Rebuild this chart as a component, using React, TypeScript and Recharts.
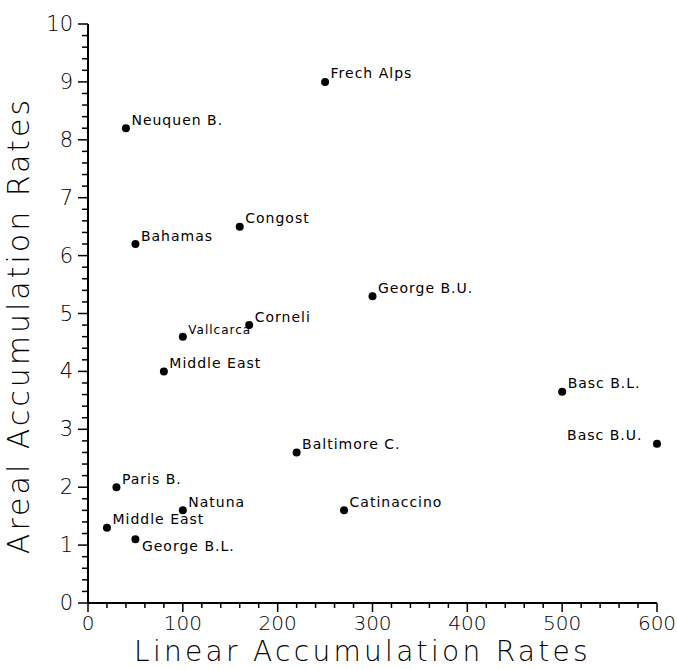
import React from "react"
import { ScatterChart, Scatter, XAxis, YAxis, LabelList } from "recharts"

// basin names, linear and areal accumulation rates
const names = [
  "Frech Alps",
  "Neuquen B.",
  "Congost",
  "Bahamas",
  "George B.U.",
  "Corneli",
  "Vallcarca",
  "Middle East",
  "Basc B.L.",
  "Basc B.U.",
  "Baltimore C.",
  "Paris B.",
  "Natuna",
  "Catinaccino",
  "Middle East",
  "George B.L.",
]
const linearRates = [250, 40, 160, 50, 300, 170, 100, 80, 500, 600, 220, 30, 100, 270, 20, 50]
const arealRates = [9.0, 8.2, 6.5, 6.2, 5.3, 4.8, 4.6, 4.0, 3.65, 2.75, 2.6, 2.0, 1.6, 1.6, 1.3, 1.1]

const xMajorTicks = [0, 100, 200, 300, 400, 500, 600]
const yMajorTicks = [0, 1, 2, 3, 4, 5, 6, 7, 8, 9, 10]

// minor ticks: 5 steps between each pair of majors
const subdivide = (majors: number[]) => {
  const out: number[] = []
  for (let i = 0; i < majors.length - 1; i++) {
    const step = (majors[i + 1] - majors[i]) / 5
    for (let k = 0; k < 5; k++) out.push(Math.round((majors[i] + k * step) * 100) / 100)
  }
  out.push(majors[majors.length - 1])
  return out
}
const xTicks = subdivide(xMajorTicks)
const yTicks = subdivide(yMajorTicks)

const data = names.map((name, i) => ({ name, x: linearRates[i], y: arealRates[i] }))

const FONT = "'DejaVu Sans', sans-serif"

const XTick = (props: any) => {
  const { x, y, payload } = props
  const major = xMajorTicks.includes(payload.value)
  return (
    <g>
      <line x1={x} y1={y} x2={x} y2={y + (major ? 9 : 5)} stroke="#000" strokeWidth={1.5} />
      {major && (
        <text x={x} y={y + 20} textAnchor="middle" dominantBaseline="central" fontFamily={FONT} fontWeight={200} fontSize={20} fill="#000">
          {payload.value}
        </text>
      )}
    </g>
  )
}

const YTick = (props: any) => {
  const { x, y, payload } = props
  const major = yMajorTicks.includes(payload.value)
  return (
    <g>
      <line x1={x} y1={y} x2={x - (major ? 10 : 6)} y2={y} stroke="#000" strokeWidth={1.5} />
      {major && (
        <text x={x - 15} y={y} textAnchor="end" dominantBaseline="central" fontFamily={FONT} fontWeight={200} fontSize={21} fill="#000">
          {payload.value}
        </text>
      )}
    </g>
  )
}

// label placement next to each dot
const PointLabel = (props: any) => {
  const { x, y, value } = props
  let tx = x + 10
  let ty = y - 4
  let anchor = "start"
  let size = 14
  if (value === "Basc B.U.") {
    tx = x - 10
    anchor = "end"
  } else if (value === "George B.L.") {
    tx = x + 11
    ty = y + 11
  } else if (value === "Vallcarca") {
    size = 12
    ty = y - 2
  }
  return (
    <text x={tx} y={ty} textAnchor={anchor} dominantBaseline="central" fontFamily={FONT} fontSize={size} letterSpacing={1} fill="#000">
      {value}
    </text>
  )
}

const Dot = (props: any) => <circle cx={props.cx} cy={props.cy} r={4} fill="#000" />

export default function App() {
  return (
    <div style={{ position: "fixed", left: 0, top: 0, width: 677, height: 669, background: "#fff" }}>
      <ScatterChart width={677} height={669} margin={{ top: 24, right: 20, left: 0, bottom: 0 }}>
        <XAxis
          type="number"
          dataKey="x"
          domain={[0, 600]}
          ticks={xTicks}
          interval={0}
          tickSize={0}
          tickMargin={0}
          height={66}
          axisLine={{ stroke: "#000", strokeWidth: 2 }}
          tick={<XTick />}
          label={{
            value: "Linear Accumulation Rates",
            position: "insideBottom",
            offset: 8,
            dx: -10,
            style: { fontFamily: FONT, fontWeight: 200, fontSize: 28, fill: "#000", letterSpacing: 3.3 },
          }}
        />
        <YAxis
          type="number"
          dataKey="y"
          domain={[0, 10]}
          ticks={yTicks}
          interval={0}
          tickSize={0}
          tickMargin={0}
          width={88}
          axisLine={{ stroke: "#000", strokeWidth: 2 }}
          tick={<YTick />}
          label={{
            value: "Areal Accumulation Rates",
            angle: -90,
            position: "insideLeft",
            offset: 18,
            dy: 12,
            style: { fontFamily: FONT, fontWeight: 200, fontSize: 30, fill: "#000", textAnchor: "middle", letterSpacing: 3 },
          }}
        />
        <Scatter data={data} fill="#000" shape={<Dot />} isAnimationActive={false}>
          <LabelList dataKey="name" content={<PointLabel />} />
        </Scatter>
      </ScatterChart>
    </div>
  )
}
